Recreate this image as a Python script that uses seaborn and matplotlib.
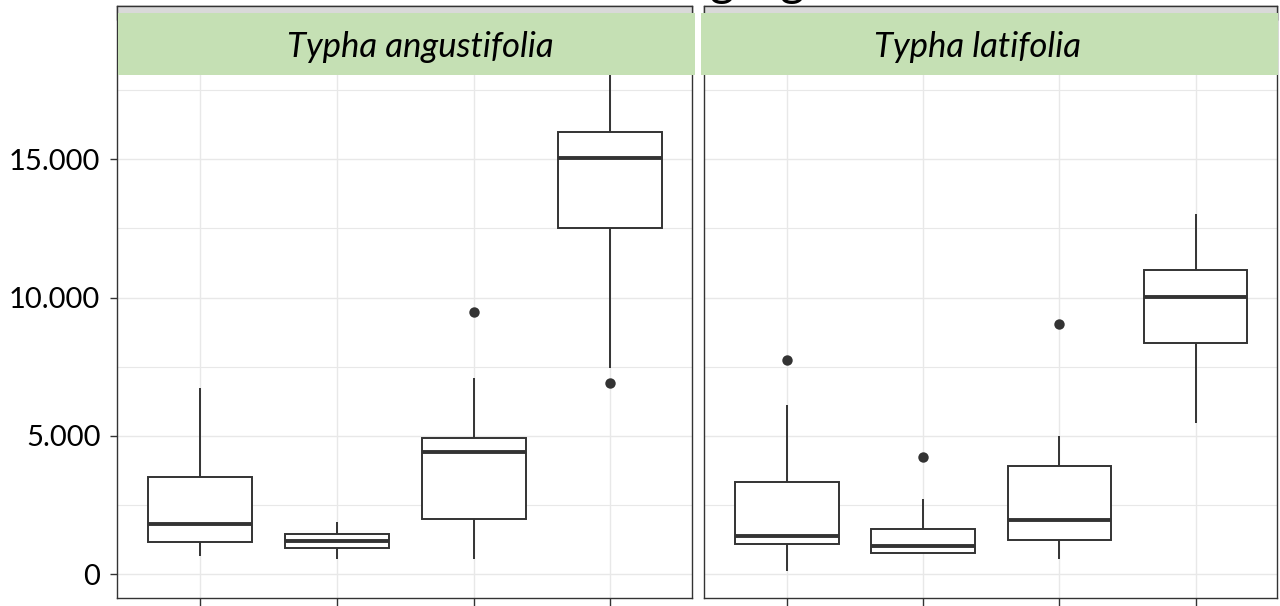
import matplotlib
matplotlib.use("Agg")
import matplotlib.pyplot as plt
import pandas as pd
import seaborn as sns
from matplotlib.patches import Rectangle
from matplotlib.ticker import FixedLocator, FuncFormatter

# ---- data -------------------------------------------------------------
species = ["Typha angustifolia", "Typha latifolia"]
groups = ["1", "2", "3", "4"]

# five-number summaries per group: lower whisker, Q1, median, Q3, upper whisker
angustifolia_low = [670, 550, 550, 7440]
angustifolia_q1 = [1160, 940, 2010, 12500]
angustifolia_med = [1830, 1195, 4415, 15040]
angustifolia_q3 = [3510, 1440, 4940, 15990]
angustifolia_high = [6745, 1890, 7110, 19500]
angustifolia_out_group = ["3", "4"]
angustifolia_out_value = [9490, 6900]

latifolia_low = [110, 755, 550, 5470]
latifolia_q1 = [1090, 755, 1230, 8360]
latifolia_med = [1390, 1030, 1950, 10035]
latifolia_q3 = [3325, 1625, 3900, 10995]
latifolia_high = [6135, 2705, 5000, 13020]
latifolia_out_group = ["1", "2", "3"]
latifolia_out_value = [7750, 4235, 9060]

y_major = [0, 5000, 10000, 15000]
y_minor = [2500, 7500, 12500, 17500]

summaries = {
    "Typha angustifolia": (angustifolia_low, angustifolia_q1, angustifolia_med,
                           angustifolia_q3, angustifolia_high,
                           angustifolia_out_group, angustifolia_out_value),
    "Typha latifolia": (latifolia_low, latifolia_q1, latifolia_med,
                        latifolia_q3, latifolia_high,
                        latifolia_out_group, latifolia_out_value),
}

# ---- style ------------------------------------------------------------
sns.set_theme(style="whitegrid")
plt.rcParams["font.family"] = ["Lato", "DejaVu Sans"]

W, H = 1280, 606
fig = plt.figure(figsize=(W / 100, H / 100), dpi=100)
fig.patch.set_facecolor("white")


def fx(px):
    return px / W


def fy(py):
    return 1 - py / H


DARK = "#333333"
GRID = "#e8e8e8"
Y_MIN, Y_MAX = -855, 20540

panels = [(117, 692), (704, 1277)]
strip_green = [(118, 695), (701, 1278)]
label_x = [420, 977]

for i, (sp, (x0, x1)) in enumerate(zip(species, panels)):
    ax = fig.add_axes([fx(x0), fy(598), fx(x1) - fx(x0), fy(6) - fy(598)])
    low, q1, med, q3, high, og, ov = summaries[sp]
    rows = []
    for g, a, b, c, d, e in zip(groups, low, q1, med, q3, high):
        for v in (a, b, c, d, e):
            rows.append({"group": g, "value": v})
    df = pd.DataFrame(rows)

    sns.boxplot(data=df, x="group", y="value", order=groups, ax=ax,
                whis=(0, 100), width=0.76, color="white", linecolor=DARK,
                linewidth=1.4, showfliers=False, showcaps=False,
                medianprops={"linewidth": 2.8, "color": DARK})
    sns.stripplot(x=og, y=ov, order=groups, ax=ax, jitter=False,
                  color=DARK, size=7.5, linewidth=0, zorder=4)

    ax.set_xlim(-0.608, 3.597)
    ax.set_ylim(Y_MIN, Y_MAX)
    ax.yaxis.set_major_locator(FixedLocator(y_major))
    ax.yaxis.set_minor_locator(FixedLocator(y_minor))
    ax.yaxis.set_major_formatter(
        FuncFormatter(lambda v, p: f"{int(v):,}".replace(",", ".")))
    ax.grid(True, which="major", axis="both", color=GRID, linewidth=1.0)
    ax.grid(True, which="minor", axis="y", color=GRID, linewidth=0.8)
    ax.set_axisbelow(True)
    ax.set_xlabel("")
    ax.set_ylabel("")
    ax.set_xticks(range(len(groups)))
    ax.set_xticklabels([""] * len(groups))
    ax.tick_params(axis="x", which="both", length=6, width=1.0,
                   color=DARK, direction="out", bottom=True)
    if i == 0:
        ax.tick_params(axis="y", which="major", length=5, width=1.0,
                       color=DARK, direction="out", left=True, pad=7,
                       labelsize=21, labelcolor="black")
        ax.tick_params(axis="y", which="minor", length=0)
    else:
        ax.tick_params(axis="y", which="both", length=0, labelleft=False)
    for s in ax.spines.values():
        s.set_visible(True)
        s.set_color(DARK)
        s.set_linewidth(1.0)

    # grey strip band along the top of the panel
    fig.add_artist(Rectangle((fx(x0), fy(20)), fx(x1) - fx(x0), fy(6) - fy(20),
                             transform=fig.transFigure, facecolor="#d9d9d9",
                             edgecolor=DARK, linewidth=1.0, zorder=5))
    # green facet label
    gx0, gx1 = strip_green[i]
    fig.add_artist(Rectangle((fx(gx0), fy(75)), fx(gx1) - fx(gx0), fy(13) - fy(75),
                             transform=fig.transFigure, facecolor="#c5e0b4",
                             edgecolor="none", zorder=6))
    fig.text(fx(label_x[i]), fy(57), sp, ha="center", va="baseline",
             fontsize=25, fontstyle="italic", color="black", zorder=7)

# unit heading above the panels
fig.text(fx(672), fy(-4), "mg/kg", ha="left", va="baseline",
         fontsize=34, color="black")

fig.savefig("out.png", dpi=100)
